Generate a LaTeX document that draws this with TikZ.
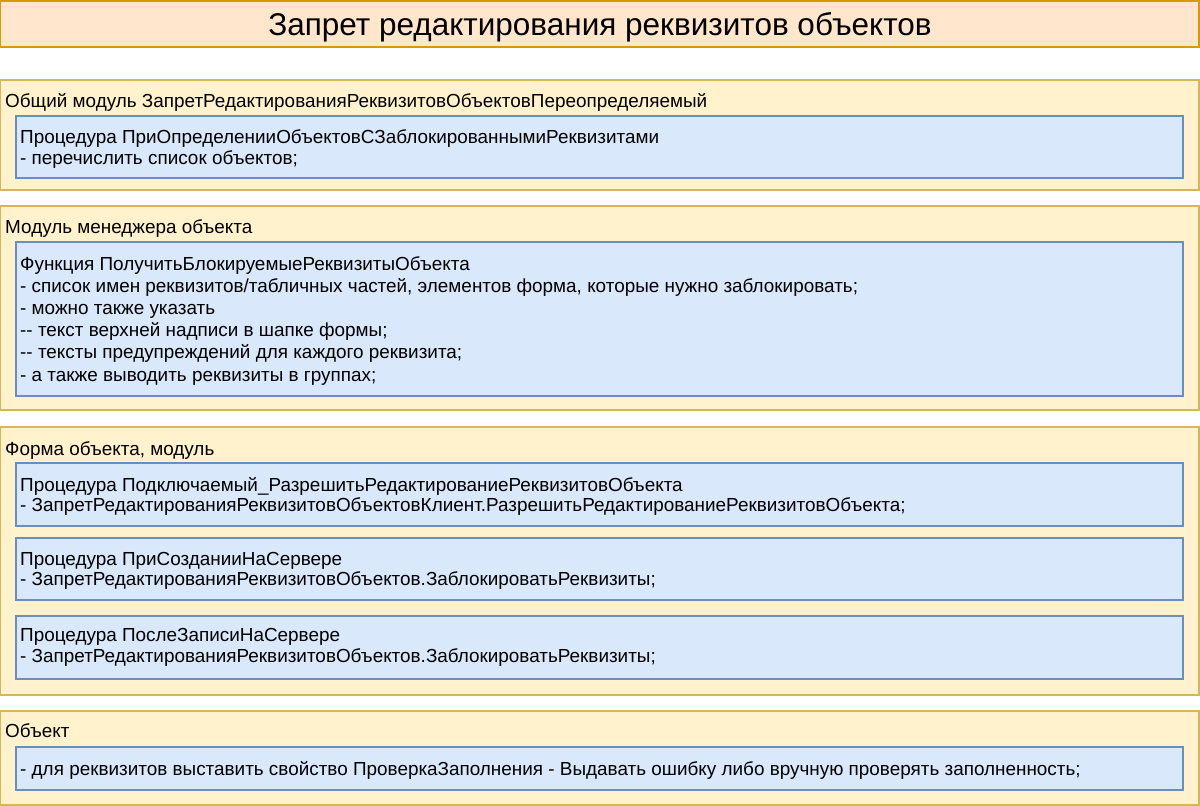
\documentclass[tikz,border=0pt]{standalone}
\usepackage{fontspec}
\setmainfont{Liberation Sans}
\definecolor{titlefill}{HTML}{FFE6CC}
\definecolor{titledraw}{HTML}{D79B00}
\definecolor{outerfill}{HTML}{FFF2CC}
\definecolor{outerdraw}{HTML}{D6B656}
\definecolor{innerfill}{HTML}{DAE8FC}
\definecolor{innerdraw}{HTML}{6C8EBF}
\tikzset{
  titlebox/.style={fill=titlefill,draw=titledraw,line width=1.3pt},
  outerbox/.style={fill=outerfill,draw=outerdraw,line width=1.3pt},
  innerbox/.style={fill=innerfill,draw=innerdraw,line width=1.3pt},
  txt/.style={anchor=base west,inner sep=0pt,align=left,font=\fontsize{18.9}{20.5}\selectfont},
  txtwide/.style={txt,font=\fontsize{18.9}{22.2}\selectfont},
}
\begin{document}
\begin{tikzpicture}[x=1pt,y=-1pt]
\useasboundingbox (0,0) rectangle (1200,806);
% title
\draw[titlebox] (0.7,1) rectangle (1199,47);
\node[anchor=base,inner sep=0pt,font=\fontsize{31.5}{36}\selectfont] (title) at (600,35.5) {Запрет редактирования реквизитов объектов};
% box 1
\draw[outerbox] (0.7,80) rectangle (1199,190);
\node[txt] (o1) at (5,107) {Общий модуль ЗапретРедактированияРеквизитовОбъектовПереопределяемый};
\draw[innerbox] (16,116) rectangle (1183,178);
\node[txt] (i1) at (20,164) {Процедура ПриОпределенииОбъектовСЗаблокированнымиРеквизитами\\- перечислить список объектов;};
% box 2
\draw[outerbox] (0.7,206) rectangle (1199,410);
\node[txt] (o2) at (5,233) {Модуль менеджера объекта};
\draw[innerbox] (16,242) rectangle (1183,396);
\node[txtwide] (i2) at (20,381) {Функция ПолучитьБлокируемыеРеквизитыОбъекта\\- список имен реквизитов/табличных частей, элементов форма, которые нужно заблокировать;\\- можно также указать\\-{}- текст верхней надписи в шапке формы;\\-{}- тексты предупреждений для каждого реквизита;\\- а также выводить реквизиты в группах;};
% box 3
\draw[outerbox] (0.7,427) rectangle (1199,695);
\node[txt] (o3) at (5,455) {Форма объекта, модуль};
\draw[innerbox] (16,463) rectangle (1183,526);
\node[txt] (i3a) at (20,511.5) {Процедура Подключаемый\_РазрешитьРедактированиеРеквизитовОбъекта\\- ЗапретРедактированияРеквизитовОбъектовКлиент.РазрешитьРедактированиеРеквизитовОбъекта;};
\draw[innerbox] (16,538) rectangle (1183,600);
\node[txt] (i3b) at (20,585.5) {Процедура ПриСозданииНаСервере\\- ЗапретРедактированияРеквизитовОбъектов.ЗаблокироватьРеквизиты;};
\draw[innerbox] (16,616) rectangle (1183,679);
\node[txt] (i3c) at (20,662) {Процедура ПослеЗаписиНаСервере\\- ЗапретРедактированияРеквизитовОбъектов.ЗаблокироватьРеквизиты;};
% box 4
\draw[outerbox] (0.7,711) rectangle (1199,805);
\node[txt] (o4) at (5,737) {Объект};
\draw[innerbox] (16,747) rectangle (1183,790);
\node[txt] (i4) at (20,775) {- для реквизитов выставить свойство ПроверкаЗаполнения - Выдавать ошибку либо вручную проверять заполненность;};
\end{tikzpicture}
\end{document}
